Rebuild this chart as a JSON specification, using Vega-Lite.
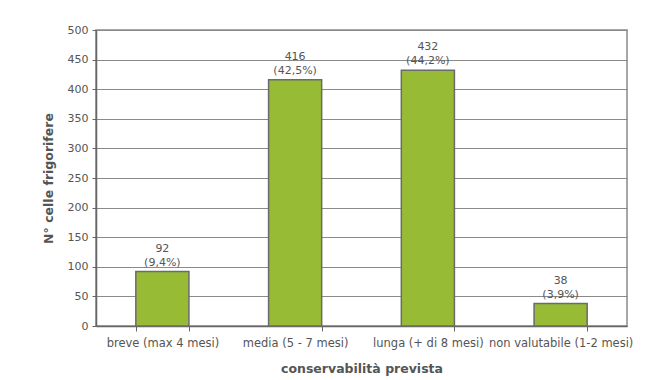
{
  "$schema": "https://vega.github.io/schema/vega-lite/v6.json",
  "width": 531,
  "height": 296,
  "autosize": "none",
  "padding": {"left": 96, "top": 30, "right": 40, "bottom": 54},
  "background": "white",
  "config": {
    "font": "DejaVu Sans",
    "view": {"stroke": "#8a8a8a", "strokeWidth": 1.5}
  },
  "data": {
    "values": [
      {"categoria": "breve (max 4 mesi)", "celle": 92, "etichetta": "92\n(9,4%)"},
      {"categoria": "media (5 - 7 mesi)", "celle": 416, "etichetta": "416\n(42,5%)"},
      {"categoria": "lunga (+ di 8 mesi)", "celle": 432, "etichetta": "432\n(44,2%)"},
      {"categoria": "non valutabile (1-2 mesi)", "celle": 38, "etichetta": "38\n(3,9%)"}
    ]
  },
  "encoding": {
    "x": {
      "field": "categoria",
      "type": "nominal",
      "sort": null,
      "scale": {"paddingInner": 0.6, "paddingOuter": 0.3},
      "axis": {
        "title": "conservabilità prevista",
        "labelAngle": 0,
        "labelFont": "DejaVu Sans",
        "labelFontSize": 11.5,
        "labelColor": "#555555",
        "labelPadding": 6,
        "tickBand": "extent",
        "tickColor": "#666666",
        "tickSize": 5,
        "domainColor": "#666666",
        "domainWidth": 1.5,
        "titleFont": "DejaVu Sans",
        "titleFontSize": 12.5,
        "titleFontWeight": "bold",
        "titleColor": "#555555",
        "titlePadding": 14
      }
    },
    "y": {
      "field": "celle",
      "type": "quantitative",
      "scale": {"domain": [0, 500]},
      "axis": {
        "title": "N° celle frigorifere",
        "values": [0, 50, 100, 150, 200, 250, 300, 350, 400, 450, 500],
        "labelFont": "DejaVu Sans",
        "labelFontSize": 11,
        "labelColor": "#555555",
        "labelPadding": 4,
        "tickColor": "#666666",
        "tickSize": 4,
        "domainColor": "#666666",
        "domainWidth": 1.5,
        "grid": true,
        "gridColor": "#8a8a8a",
        "gridWidth": 1.2,
        "titleFont": "DejaVu Sans",
        "titleFontSize": 12.5,
        "titleFontWeight": "bold",
        "titleColor": "#555555",
        "titlePadding": 12
      }
    }
  },
  "layer": [
    {
      "mark": {"type": "bar", "fill": "#97bb34", "stroke": "#6b6b6b", "strokeWidth": 1.5}
    },
    {
      "mark": {
        "type": "text",
        "baseline": "bottom",
        "dy": -18,
        "lineBreak": "\n",
        "lineHeight": 14,
        "font": "DejaVu Sans",
        "fontSize": 11,
        "color": "#555555"
      },
      "encoding": {"text": {"field": "etichetta"}}
    }
  ]
}
